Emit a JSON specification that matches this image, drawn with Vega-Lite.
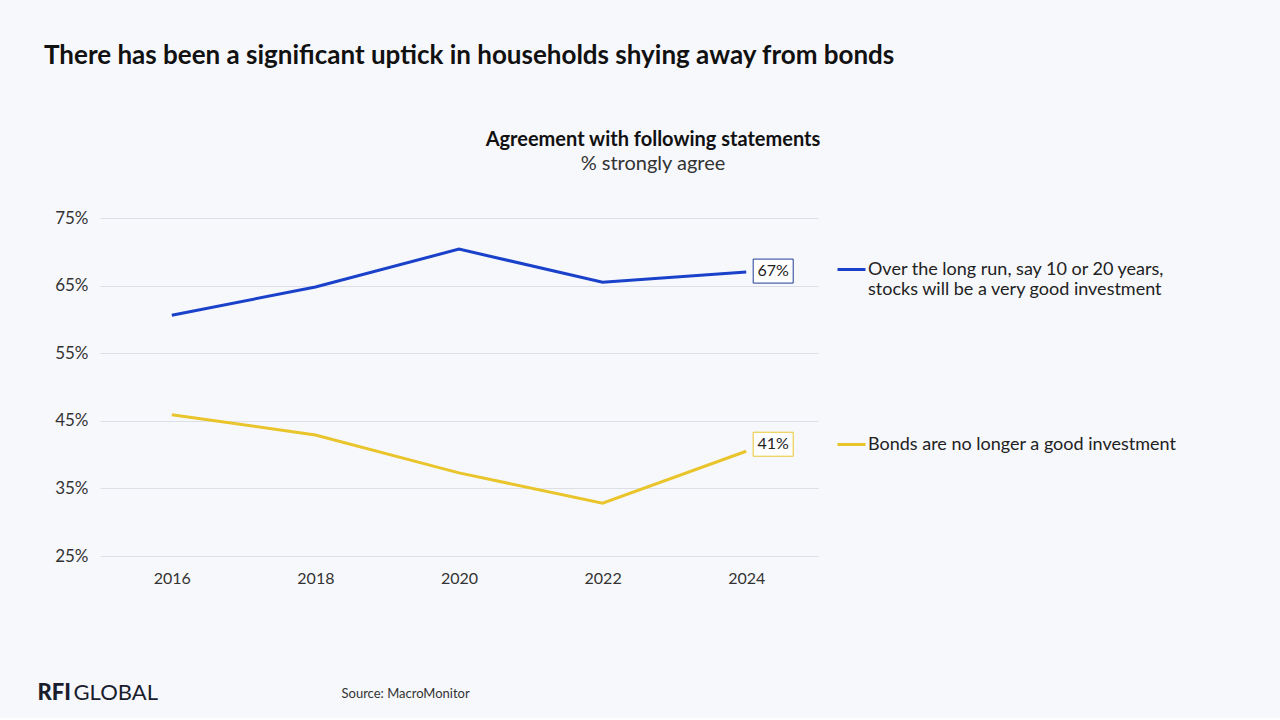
{
  "$schema": "https://vega.github.io/schema/vega-lite/v6.json",
  "background": "#F7F8FC",
  "padding": {"left": 37, "top": 43, "right": 106, "bottom": 15},
  "title": {
    "text": "There has been a significant uptick in households shying away from bonds",
    "anchor": "start",
    "frame": "group",
    "fontSize": 26,
    "fontWeight": "bold",
    "color": "#111111",
    "offset": 61,
    "dx": -56
  },
  "data": {
    "values": [
      {"year": "2016", "series": "Over the long run, say 10 or 20 years, stocks will be a very good investment", "value": 60.6, "label": null},
      {"year": "2018", "series": "Over the long run, say 10 or 20 years, stocks will be a very good investment", "value": 64.8, "label": null},
      {"year": "2020", "series": "Over the long run, say 10 or 20 years, stocks will be a very good investment", "value": 70.4, "label": null},
      {"year": "2022", "series": "Over the long run, say 10 or 20 years, stocks will be a very good investment", "value": 65.5, "label": null},
      {"year": "2024", "series": "Over the long run, say 10 or 20 years, stocks will be a very good investment", "value": 67.0, "label": "67%"},
      {"year": "2016", "series": "Bonds are no longer a good investment", "value": 45.9, "label": null},
      {"year": "2018", "series": "Bonds are no longer a good investment", "value": 42.9, "label": null},
      {"year": "2020", "series": "Bonds are no longer a good investment", "value": 37.3, "label": null},
      {"year": "2022", "series": "Bonds are no longer a good investment", "value": 32.8, "label": null},
      {"year": "2024", "series": "Bonds are no longer a good investment", "value": 40.5, "label": "41%"}
    ]
  },
  "vconcat": [
    {
      "width": 718,
      "height": 338,
      "title": {
        "text": "Agreement with following statements",
        "subtitle": "% strongly agree",
        "anchor": "middle",
        "frame": "group",
        "dx": 194,
        "fontSize": 20,
        "fontWeight": "bold",
        "color": "#111111",
        "subtitleFontSize": 20,
        "subtitleColor": "#333333",
        "subtitlePadding": 4,
        "offset": 35
      },
      "layer": [
        {
          "mark": {"type": "line", "strokeWidth": 3},
          "encoding": {
            "x": {
              "field": "year",
              "type": "ordinal",
              "scale": {"type": "point", "padding": 0.5},
              "axis": {
                "title": "Source: MacroMonitor",
                "titleX": 241,
                "titleY": 141,
                "titleAlign": "left",
                "titleBaseline": "alphabetic",
                "titleFontSize": 13,
                "titleFontWeight": "normal",
                "titleColor": "#333333",
                "labelAngle": 0,
                "labelFontSize": 16,
                "labelColor": "#333333",
                "labelPadding": 14,
                "ticks": false,
                "domain": false,
                "grid": false
              }
            },
            "y": {
              "field": "value",
              "type": "quantitative",
              "scale": {"domain": [25, 75], "nice": false, "zero": false},
              "axis": {
                "orient": "left",
                "values": [25, 35, 45, 55, 65, 75],
                "labelExpr": "datum.value + '%'",
                "labelFontSize": 17,
                "labelColor": "#333333",
                "labelPadding": 12,
                "ticks": false,
                "domain": false,
                "grid": true,
                "gridColor": "#DDDFE6",
                "title": "RFI",
                "titleAngle": 0,
                "titleX": -63,
                "titleY": 481,
                "titleAlign": "left",
                "titleBaseline": "alphabetic",
                "titleFontSize": 22,
                "titleFontWeight": 900,
                "titleColor": "#1A1D2E"
              }
            },
            "color": {
              "field": "series",
              "type": "nominal",
              "scale": {
                "domain": ["Over the long run, say 10 or 20 years, stocks will be a very good investment", "Bonds are no longer a good investment"],
                "range": ["#1A41C9", "#E9C52B"]
              },
              "legend": {
                "orient": "none",
                "legendX": 736,
                "legendY": 36,
                "title": null,
                "symbolType": "stroke",
                "symbolStrokeWidth": 3,
                "symbolSize": 784,
                "labelFontSize": 18,
                "labelColor": "#222222",
                "labelLimit": 0,
                "labelOffset": 1,
                "labelBaseline": "middle",
                "rowPadding": 130,
                "padding": 0,
                "labelExpr": "datum.label == 'Bonds are no longer a good investment' ? datum.label : ['Over the long run, say 10 or 20 years,', 'stocks will be a very good investment']"
              }
            }
          }
        },
        {
          "transform": [{"filter": "isValid(datum.label)"}],
          "mark": {
            "type": "point",
            "shape": "M-1,-0.6H1V0.6H-1Z",
            "size": 1600,
            "fill": "#FFFFFF",
            "filled": true,
            "opacity": 1,
            "strokeWidth": 1,
            "xOffset": 27,
            "yOffset": {"expr": "datum.series == 'Bonds are no longer a good investment' ? -7 : -1"}
          },
          "encoding": {
            "x": {"field": "year", "type": "ordinal"},
            "y": {
              "field": "value",
              "type": "quantitative",
              "axis": {
                "orient": "right",
                "labels": false,
                "ticks": false,
                "domain": false,
                "grid": false,
                "title": "GLOBAL",
                "titleAngle": 0,
                "titleX": -745,
                "titleY": 481,
                "titleAlign": "left",
                "titleBaseline": "alphabetic",
                "titleFontSize": 22,
                "titleFontWeight": "normal",
                "titleColor": "#1A1D2E"
              }
            },
            "stroke": {
              "field": "series",
              "type": "nominal",
              "scale": {
                "domain": ["Over the long run, say 10 or 20 years, stocks will be a very good investment", "Bonds are no longer a good investment"],
                "range": ["#1F3C94", "#E9C52B"]
              },
              "legend": null
            }
          }
        },
        {
          "transform": [{"filter": "isValid(datum.label)"}],
          "mark": {
            "type": "text",
            "fontSize": 16,
            "color": "#222222",
            "align": "center",
            "baseline": "middle",
            "xOffset": 27,
            "yOffset": {"expr": "datum.series == 'Bonds are no longer a good investment' ? -7 : -1"}
          },
          "encoding": {
            "x": {"field": "year", "type": "ordinal"},
            "y": {"field": "value", "type": "quantitative", "axis": null},
            "text": {"field": "label"}
          }
        }
      ],
      "resolve": {"axis": {"y": "independent"}}
    }
  ],
  "config": {
    "font": "Lato",
    "view": {"stroke": null}
  }
}
